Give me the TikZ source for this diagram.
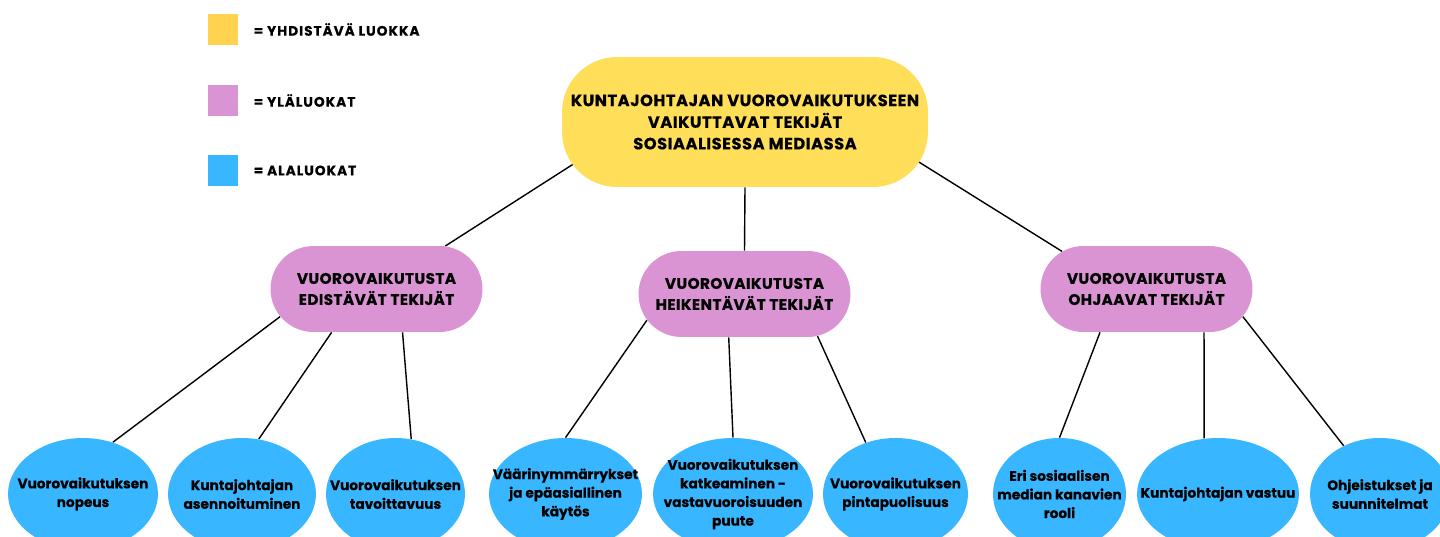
\documentclass[tikz,border=0pt]{standalone}
\usepackage{fontspec}
\setmainfont{Poppins}
\usetikzlibrary{positioning, shapes.misc, shapes.geometric, calc, backgrounds}
\definecolor{cYhd}{HTML}{FFDE59}
\definecolor{cYhdLeg}{HTML}{FFD24F}
\definecolor{cYla}{HTML}{DA94D4}
\definecolor{cAla}{HTML}{38B6FF}
\tikzstyle{juuri}=[shape=rectangle, rounded corners=1.1cm, fill=cYhd, minimum width=7.32cm, minimum height=2.6cm, align=center, font=\fontsize{9.3}{12.3}\selectfont\bfseries\addfontfeatures{LetterSpace=3,FakeBold=0.4}]
\tikzstyle{yla}=[shape=rounded rectangle, fill=cYla, inner xsep=-1cm, minimum width=2.24cm, minimum height=1.72cm, align=center, font=\fontsize{8.7}{12}\selectfont\bfseries\addfontfeatures{LetterSpace=2.5,FakeBold=0.4}]
\tikzstyle{ala}=[shape=ellipse, fill=cAla, inner xsep=-1cm, inner ysep=0pt, minimum height=2.24cm, align=center, font=\fontsize{7.8}{10.6}\selectfont\bfseries\addfontfeatures{FakeBold=0.3}]
\tikzstyle{legbox}=[shape=rectangle, inner sep=0pt, minimum width=0.6cm, minimum height=0.62cm]
\tikzstyle{legtxt}=[inner sep=0pt, font=\fontsize{7.8}{9}\selectfont\bfseries\addfontfeatures{LetterSpace=7,FakeBold=0.4}]
\tikzstyle{yhteys}=[line width=0.8pt, black]
\begin{document}
\begin{tikzpicture}[x=0.02cm,y=-0.02cm]
\useasboundingbox (0,0) rectangle (1440,537);
\clip (0,0) rectangle (1440,537);
% legend
\node[legbox, fill=cYhdLeg] (leg1) at (223,29.5){};
\node[legbox, fill=cYla] (leg2) at (223,100.5){};
\node[legbox, fill=cAla] (leg3) at (223,170.5){};
\node[legtxt, right=0.3cm of leg1] (legt1) {= YHDISTÄVÄ LUOKKA};
\node[legtxt, right=0.3cm of leg2] (legt2) {= YLÄLUOKAT};
\node[legtxt, right=0.3cm of leg3] (legt3) {= ALALUOKAT};
% main class
\node[juuri] (root) at (745,122) {KUNTAJOHTAJAN VUOROVAIKUTUKSEEN\\VAIKUTTAVAT TEKIJÄT\\SOSIAALISESSA MEDIASSA};
% upper classes
\node[yla] (edist) at (376.5,289) {VUOROVAIKUTUSTA\\EDISTÄVÄT TEKIJÄT};
\node[yla] (heik) at (744.5,294) {VUOROVAIKUTUSTA\\HEIKENTÄVÄT TEKIJÄT};
\node[yla] (ohj) at (1146.5,289) {VUOROVAIKUTUSTA\\OHJAAVAT TEKIJÄT};
% sub classes
\foreach \nimi/\x/\lev/\teksti in {
  a1/83/3.0/{Vuorovaikutuksen\\nopeus},
  a2/242/2.96/{Kuntajohtajan\\asennoituminen},
  a3/395.5/2.78/{Vuorovaikutuksen\\tavoittavuus},
  b1/565.5/3.06/{Väärinymmärrykset\\ja epäasiallinen\\käytös},
  b2/733/3.2/{Vuorovaikutuksen\\katkeaminen -\\vastavuoroisuuden\\puute},
  b3/895.5/2.9/{Vuorovaikutuksen\\pintapuolisuus},
  c1/1059.5/2.66/{Eri sosiaalisen\\median kanavien\\rooli},
  c2/1218/3.24/{Kuntajohtajan vastuu},
  c3/1380/2.8/{Ohjeistukset ja\\suunnitelmat}}{
\node[ala, minimum width=\lev cm] (\nimi) at (\x,494) {\teksti};
}
% connectors
\begin{scope}[on background layer]
\draw[yhteys] (edist.32) -- ($(root.center)+(-145,25)$);
\draw[yhteys] (heik.north) -- (root.south);
\draw[yhteys] (ohj.156) -- ($(root.center)+(145,22)$);
\draw[yhteys] (edist.196) -- (a1.60) (edist.224) -- (a2.73) (edist.301) -- (a3.74);
\draw[yhteys] (heik.195) -- (b1.north) (heik.250) -- (b2.north) (heik.330) -- (b3.120);
\draw[yhteys] (ohj.223) -- (c1.north) (ohj.323) -- (c2.104) (ohj.344) -- (c3.127);
\end{scope}
\end{tikzpicture}
\end{document}
